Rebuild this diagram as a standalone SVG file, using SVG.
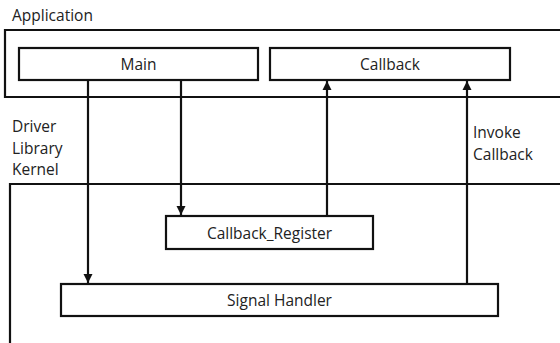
<svg xmlns="http://www.w3.org/2000/svg" width="560" height="343" viewBox="0 0 560 343">
<style>
.box{fill:#fff;stroke:#111;stroke-width:2.2}
.frame{fill:none;stroke:#111;stroke-width:2.2}
.t{font-family:"Open Sans","Liberation Sans",sans-serif;font-size:15.5px;fill:#222}
.c{text-anchor:middle}
.conn{stroke:#111;stroke-width:2.2;fill:none;marker-end:url(#ah)}
</style>
<defs>
<marker id="ah" viewBox="0 0 10 10" refX="10" refY="5" markerWidth="4.2" markerHeight="4.2" orient="auto" markerUnits="strokeWidth">
<path d="M0,0 L10,5 L0,10 Z" fill="#111"/>
</marker>
</defs>
<rect width="560" height="343" fill="#fff"/>
<g id="application">
<text class="t" x="12" y="21">Application</text>
<path class="frame" d="M560,30 H5 V97 H560"/>
</g>
<g id="kernel-layer">
<text class="t" x="12" y="132">Driver</text>
<text class="t" x="12" y="153.5">Library</text>
<text class="t" x="12" y="175">Kernel</text>
<path class="frame" d="M560,184 H10 V343"/>
</g>
<g id="main">
<rect class="box" x="19" y="48" width="239" height="32"/>
<text class="t c" x="138.5" y="70">Main</text>
</g>
<g id="callback">
<rect class="box" x="270" y="48" width="240" height="32"/>
<text class="t c" x="390" y="70">Callback</text>
</g>
<g id="callback-register">
<rect class="box" x="166" y="216" width="207" height="33"/>
<text class="t c" x="269.5" y="238.5">Callback_Register</text>
</g>
<g id="signal-handler">
<rect class="box" x="61" y="284" width="437" height="32"/>
<text class="t c" x="279.5" y="306">Signal Handler</text>
</g>
<g id="connectors">
<line class="conn" x1="88" y1="80" x2="88" y2="283"/>
<line class="conn" x1="181" y1="80" x2="181" y2="215"/>
<line class="conn" x1="327" y1="216" x2="327" y2="81"/>
<line class="conn" x1="467" y1="284" x2="467" y2="81"/>
<text class="t" x="473" y="137.5">Invoke</text>
<text class="t" x="473" y="159.5">Callback</text>
</g>
</svg>
